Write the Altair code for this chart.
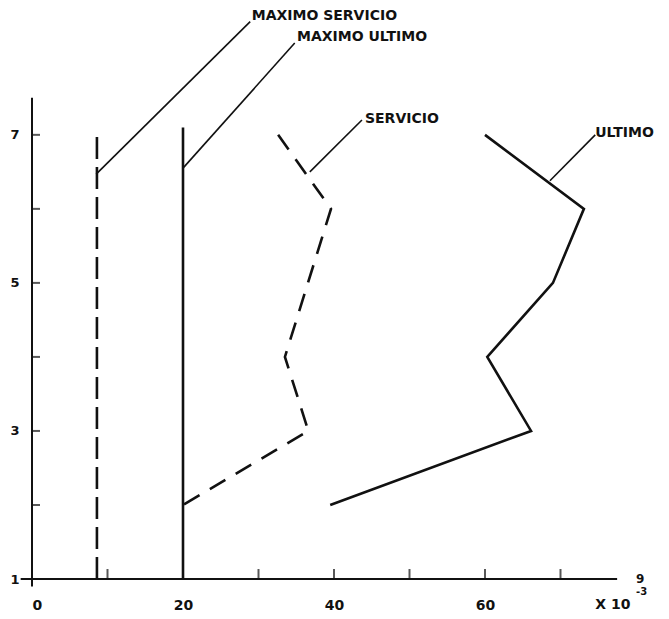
import altair as alt
import pandas as pd

# ---- data ----
floors_servicio = [7, 6, 4, 3, 2]
drift_servicio = [32.6, 39.6, 33.5, 36.6, 20.0]
floors_ultimo = [7, 6, 5, 4, 3, 2]
drift_ultimo = [60.0, 73.1, 69.0, 60.3, 66.1, 39.5]
max_servicio_drift = [8.6, 8.6]
max_servicio_floors = [1, 7]
max_ultimo_drift = [20.0, 20.0]
max_ultimo_floors = [1, 7.1]

label_names = ["MAXIMO SERVICIO", "MAXIMO ULTIMO", "SERVICIO", "ULTIMO"]
label_x = [29.1, 35.1, 44.1, 74.6]
label_y = [8.6, 8.32, 7.22, 7.03]
leader_x0 = [8.5, 20.0, 36.8, 68.6]
leader_y0 = [6.47, 6.55, 6.5, 6.38]
leader_x1 = [28.9, 34.8, 43.7, 74.6]
leader_y1 = [8.53, 8.24, 7.2, 7.0]

x_tick_values = [10, 20, 30, 40, 50, 60, 70]
y_tick_values = [2, 3, 4, 5, 6, 7]
x_label_values = [0, 20, 40, 60]
y_label_values = [1, 3, 5, 7]
x_axis_extent = [-1.5, 77.5]
y_axis_extent = [0.9, 7.5]

unit_texts = ["X 10", "-3", "9"]
unit_x = [74.6, 80.0, 80.0]
unit_y = [0.65, 0.83, 1.0]
unit_sizes = [14, 10, 12]

FONT = "DejaVu Sans"
INK = "#111111"

xs = alt.Scale(domain=[0, 80], nice=False, zero=False)
ys = alt.Scale(domain=[1, 8.7], nice=False, zero=False)

x_axis = alt.Axis(values=x_label_values, format="d", domain=False, ticks=False, grid=False,
                  labelFontSize=14, labelFontWeight="bold", labelFont=FONT,
                  labelColor=INK, labelPadding=19, title=None)
y_axis = alt.Axis(values=y_label_values, format="d", domain=False, ticks=False, grid=False,
                  labelFontSize=13, labelFontWeight="bold", labelFont=FONT,
                  labelColor=INK, labelPadding=13, title=None)

serv = pd.DataFrame({"x": drift_servicio, "y": floors_servicio,
                     "o": list(range(len(floors_servicio)))})
ult = pd.DataFrame({"x": drift_ultimo, "y": floors_ultimo,
                    "o": list(range(len(floors_ultimo)))})
mserv = pd.DataFrame({"x": max_servicio_drift, "y": max_servicio_floors, "o": [0, 1]})
mult = pd.DataFrame({"x": max_ultimo_drift, "y": max_ultimo_floors, "o": [0, 1]})

leaders = pd.DataFrame({"x": leader_x0, "y": leader_y0, "x2": leader_x1, "y2": leader_y1})
labels = pd.DataFrame({"t": label_names, "x": label_x, "y": label_y})
units = pd.DataFrame({"t": unit_texts, "x": unit_x, "y": unit_y, "s": unit_sizes})

x_axis_line = alt.Chart(pd.DataFrame({"a": [x_axis_extent[0]], "b": [x_axis_extent[1]], "y": [1]})).mark_rule(
    color=INK, strokeWidth=2).encode(
    x=alt.X("a:Q", scale=xs, axis=x_axis), x2="b:Q",
    y=alt.Y("y:Q", scale=ys, axis=y_axis))
y_axis_line = alt.Chart(pd.DataFrame({"a": [y_axis_extent[0]], "b": [y_axis_extent[1]], "x": [0]})).mark_rule(
    color=INK, strokeWidth=2).encode(
    y=alt.Y("a:Q", scale=ys), y2="b:Q", x=alt.X("x:Q", scale=xs))

x_ticks = alt.Chart(pd.DataFrame({"v": x_tick_values})).mark_tick(
    orient="vertical", size=10, thickness=2, yOffset=-5, color=INK).encode(
    x=alt.X("v:Q", scale=xs), y=alt.datum(1))
y_ticks = alt.Chart(pd.DataFrame({"v": y_tick_values})).mark_tick(
    orient="horizontal", size=8, thickness=2, xOffset=4, color=INK).encode(
    y=alt.Y("v:Q", scale=ys), x=alt.datum(0))

def series(df, dash=None):
    kw = dict(color=INK, strokeWidth=2.6, strokeCap="butt")
    if dash:
        kw["strokeDash"] = dash
    return alt.Chart(df).mark_line(**kw).encode(
        x=alt.X("x:Q", scale=xs), y=alt.Y("y:Q", scale=ys), order="o:Q")

l_serv = series(serv, [18, 12])
l_ult = series(ult)
l_mserv = series(mserv, [22, 8])
l_mult = series(mult)

l_lead = alt.Chart(leaders).mark_rule(color=INK, strokeWidth=1.6).encode(
    x=alt.X("x:Q", scale=xs), y=alt.Y("y:Q", scale=ys), x2="x2:Q", y2="y2:Q")

l_labels = alt.Chart(labels).mark_text(
    align="left", baseline="middle", font=FONT, fontSize=14, fontWeight="bold",
    color=INK).encode(x=alt.X("x:Q", scale=xs), y=alt.Y("y:Q", scale=ys), text="t:N")

l_units = alt.Chart(units).mark_text(
    align="left", baseline="middle", font=FONT, fontWeight="bold", color=INK).encode(
    x=alt.X("x:Q", scale=xs), y=alt.Y("y:Q", scale=ys), text="t:N",
    size=alt.Size("s:Q", scale=None, legend=None))

chart = alt.layer(
    x_axis_line, y_axis_line, x_ticks, y_ticks,
    l_mserv, l_mult, l_serv, l_ult, l_lead, l_labels, l_units
).properties(
    width=604, height=570,
    autosize=alt.AutoSizeParams(type="none"),
    padding={"left": 24, "top": 1, "right": 25, "bottom": 32},
    background="white",
).configure_view(stroke=None)

chart.save("out.html", embed_options={"renderer": "svg", "actions": False})
